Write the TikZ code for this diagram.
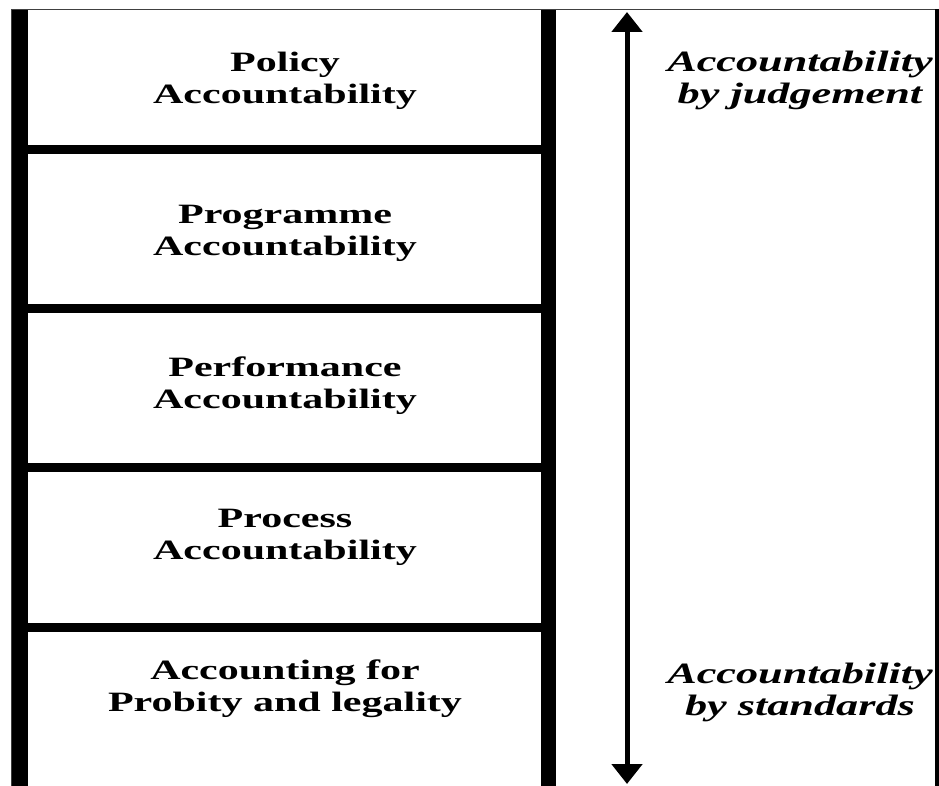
\documentclass[tikz,border=0pt]{standalone}
\usepackage{fontspec}
\setmainfont{Liberation Serif}
% wide serif face used for every label
\newfontfamily\cellfont{Liberation Serif}[FakeStretch=1.5]
\usetikzlibrary{arrows.meta}

\begin{document}
\begin{tikzpicture}[x=1pt,y=-1pt,
  celltext/.style={align=center, inner sep=0pt,
    font=\cellfont\bfseries\fontsize{28}{32}\selectfont},
  sidetext/.style={align=center, inner sep=0pt,
    font=\cellfont\bfseries\itshape\fontsize{29.5}{32}\selectfont},
  scalearrow/.style={line width=5pt,
    {Triangle[width=30pt,length=20pt]}-{Triangle[width=30pt,length=20pt]}},
  framegray/.style={draw=black!75, line width=1.5pt}
]
\useasboundingbox (0,0) rectangle (939,786);
\fill[white] (0,0) rectangle (939,786);

% outer frame
\draw[framegray] (11.5,786) -- (11.5,9.75) -- (937,9.75);
\draw[line width=4pt] (937,9) -- (937,786);

% ladder rails
\fill (12,10) rectangle (28,786);
\fill (541,10) rectangle (556,786);

% ladder rungs
\fill (28,145.5) rectangle (541,154.5);
\fill (28,304)   rectangle (541,313);
\fill (28,462.5) rectangle (541,471.5);
\fill (28,623)   rectangle (541,632);

% levels of accountability
\node[celltext] (policy)      at (285,80.5) {Policy\\Accountability};
\node[celltext] (programme)   at (285,233)  {Programme\\Accountability};
\node[celltext] (performance) at (285,386)  {Performance\\Accountability};
\node[celltext] (process)     at (285,537)  {Process\\Accountability};
\node[celltext] (probity)     at (285,689)  {Accounting for\\Probity and legality};

% scale between the two kinds of accountability
\coordinate (scaletop) at (627,12);
\coordinate (scalebottom) at (627,784);
\draw[scalearrow] (scaletop) -- (scalebottom);

\node[sidetext] (judgement) at (800,80)  {Accountability\\by judgement};
\node[sidetext] (standards) at (800,692) {Accountability\\by standards};
\end{tikzpicture}
\end{document}
